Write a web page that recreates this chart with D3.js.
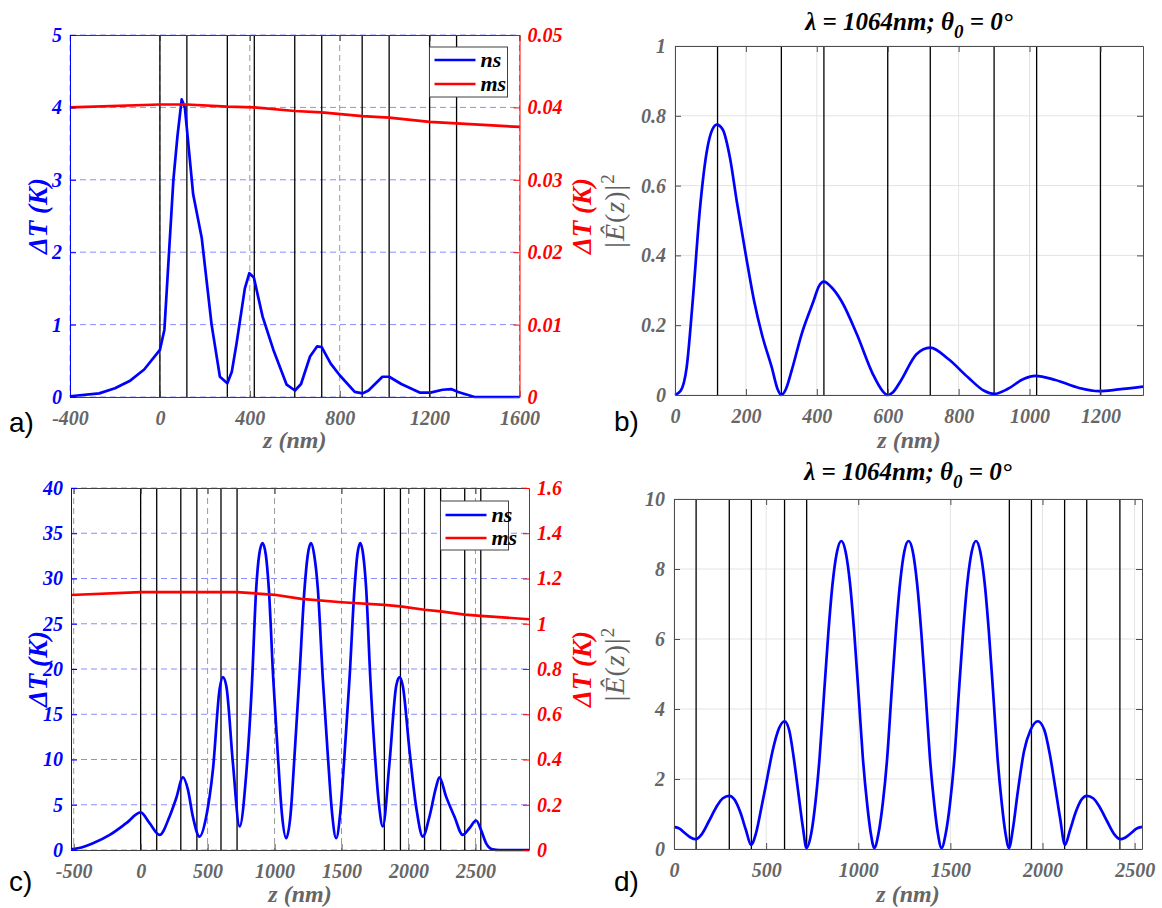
<!DOCTYPE html>
<html><head><meta charset="utf-8">
<script src="https://cdn.jsdelivr.net/npm/d3@7"></script>
<style>
body{margin:0;background:#fff}
svg text{font-family:'Liberation Serif','DejaVu Serif',serif}
svg text.sans{font-family:'Liberation Sans','DejaVu Sans',sans-serif}
</style>
</head><body><svg id="c" width="1162" height="908"></svg>
<script>
// ---------------- DATA ----------------
// panel a
const aLayers = [0,120,300,420,600,720,900,1020,1200,1320];
const aNsZ = [-400,-270,-200,-135,-70,0,20,60,78,97,111,148,186,230,267,300,320,341,378,398,418,457,505,564,601,628,668,700,720,760,800,867,902,928,990,1020,1074,1158,1204,1258,1296,1327,1400,1600];
const aNsT = [0.01,0.05,0.12,0.22,0.38,0.65,0.93,3.0,3.6,4.11,4.0,2.8,2.2,1.0,0.28,0.19,0.35,0.74,1.5,1.71,1.65,1.11,0.65,0.17,0.09,0.18,0.56,0.70,0.69,0.46,0.30,0.07,0.05,0.09,0.28,0.28,0.18,0.06,0.06,0.10,0.11,0.07,0.0,0.0];
const aMsZ = [-400,0,120,300,420,600,720,900,1020,1200,1320,1600];
const aMsT = [0.0400,0.0404,0.0404,0.0401,0.0400,0.0395,0.0393,0.0388,0.0386,0.0380,0.0378,0.0373];
const aXTicks = [-400,0,400,800,1200,1600];
const aXLabels = ["-400","0","400","800","1200","1600"];
const aYLTicks = [0,1,2,3,4,5];
const aYLLabels = ["0","1","2","3","4","5"];
const aYRTicks = [0,0.01,0.02,0.03,0.04,0.05];
const aYRLabels = ["0","0.01","0.02","0.03","0.04","0.05"];

// panel b
const bLayers = [120,300,420,600,720,900,1020,1200];
const bZ = [0,16,33,50,70,90,105,118,135,155,175,200,223,245,273,290,300,312,329,357,391,405,420,440,469,513,558,585,600,615,637,681,720,771,827,872,900,938,983,1016,1073,1140,1196,1251,1320];
const bE = [0,0.012,0.08,0.27,0.53,0.70,0.76,0.775,0.76,0.68,0.55,0.40,0.27,0.174,0.079,0.015,0,0.015,0.07,0.174,0.27,0.31,0.325,0.31,0.27,0.174,0.06,0.012,0,0.008,0.041,0.117,0.136,0.103,0.05,0.012,0.003,0.017,0.046,0.055,0.043,0.02,0.011,0.016,0.024];
const bXTicks = [0,200,400,600,800,1000,1200];
const bXLabels = ["0","200","400","600","800","1000","1200"];
const bYTicks = [0,0.2,0.4,0.6,0.8,1];
const bYLabels = ["0","0.2","0.4","0.6","0.8","1"];

// panel c
const cLayers = [0,120,300,420,600,720,1820,1940,2120,2240,2420,2540];
const cNsZ = [-520,-450,-356,-231,-107,0,67,142,216,266,316,353,390,440,490,540,590,614,640,689,739,789,830,863,885,910,935,957,990,1025,1055,1087,1120,1149,1185,1224,1248,1272,1296,1323,1360,1398,1430,1460,1490,1522,1560,1597,1618,1640,1662,1684,1715,1750,1780,1808,1858,1908,1933,1958,2007,2060,2107,2157,2207,2231,2281,2343,2405,2455,2505,2542,2580,2629,2679,2900];
const cNsT = [0.07,0.25,0.74,1.67,2.96,4.15,2.96,1.67,3.7,5.74,8.04,6.67,3.7,1.48,3.7,8.9,17.8,19.1,18.1,9.6,2.6,8.5,18,28.9,32.6,33.9,32.6,28.9,19,10.4,4,1.3,4,10.4,19,28.9,32.6,33.9,32.6,28.9,19,10.4,4,1.3,4,10.4,19,28.9,32.6,33.9,32.6,28.9,19,10.4,5,2.6,9.6,18.1,19.1,18.1,11.1,4.5,1.48,3.7,7.0,8.04,5.9,3.7,1.67,2.4,3.26,2.2,0.74,0.07,0,0];
const cMsZ = [-520,0,720,1000,1200,1500,1820,1940,2120,2240,2420,2540,2900];
const cMsT = [1.127,1.14,1.14,1.128,1.11,1.095,1.083,1.077,1.062,1.055,1.04,1.035,1.02];
const cXTicks = [-500,0,500,1000,1500,2000,2500];
const cXLabels = ["-500","0","500","1000","1500","2000","2500"];
const cYLTicks = [0,5,10,15,20,25,30,35,40];
const cYLLabels = ["0","5","10","15","20","25","30","35","40"];
const cYRTicks = [0,0.2,0.4,0.6,0.8,1,1.2,1.4,1.6];
const cYRLabels = ["0","0.2","0.4","0.6","0.8","1","1.2","1.4","1.6"];

// panel d
const dLayers = [120,300,420,600,720,1820,1940,2120,2240,2420];
const dZ = [0,30,60,90,118,150,190,230,265,300,330,360,390,418,445,475,505,535,570,600,625,650,675,700,719,745,767,790,814,838,861,885,908,931,955,978,1002,1025,1048,1068,1087,1110,1133,1157,1180,1204,1227,1250,1273,1296,1319,1342,1366,1389,1412,1432,1452,1475,1498,1522,1545,1569,1592,1616,1639,1662,1686,1709,1733,1756,1779,1799,1818,1840,1865,1900,1935,1975,2010,2040,2068,2095,2122,2150,2180,2210,2240,2275,2310,2350,2390,2422,2450,2480,2510,2540];
const dE = [0.63,0.58,0.45,0.33,0.28,0.42,0.8,1.2,1.45,1.52,1.4,1.05,0.55,0.12,0.45,1.2,2.0,2.8,3.45,3.65,3.4,2.6,1.6,0.6,0.03,0.45,1.3,2.6,4.4,6.2,7.6,8.5,8.8,8.5,7.6,6.2,4.4,2.6,1.3,0.45,0.03,0.45,1.3,2.6,4.4,6.2,7.6,8.5,8.8,8.5,7.6,6.2,4.4,2.6,1.3,0.45,0.03,0.45,1.3,2.6,4.4,6.2,7.6,8.5,8.8,8.5,7.6,6.2,4.4,2.6,1.3,0.45,0.03,0.6,1.6,2.8,3.4,3.65,3.4,2.7,1.8,0.9,0.12,0.55,1.05,1.4,1.52,1.45,1.2,0.8,0.42,0.28,0.33,0.45,0.58,0.63];
const dXTicks = [0,500,1000,1500,2000,2500];
const dXLabels = ["0","500","1000","1500","2000","2500"];
const dYTicks = [0,2,4,6,8,10];
const dYLabels = ["0","2","4","6","8","10"];

const legendNames = ["ns","ms"];
const titleText = ["λ = 1064nm; θ","0"," = 0°"];

// ---------------- DRAW ----------------
const svg = d3.select("#c");
const SERIF = "'Liberation Serif','DejaVu Serif',serif";
const BLUE = "#0000ff", RED = "#ff0000", GRAY = "#666666";

function boldItalic(t, size){
  return t.attr("font-family",SERIF).style("font-family",SERIF).attr("font-weight","bold").attr("font-style","italic").attr("font-size",size);
}
function styleAxis(sel, color, labelColor){
  sel.attr("font-family",null).attr("font-size",null);
  sel.select(".domain").attr("stroke", color).attr("stroke-width",1);
  sel.selectAll(".tick line").attr("stroke", color);
  boldItalic(sel.selectAll(".tick text").attr("fill", labelColor), 20);
}

function layersAndLine(g, x, layers, T, B){
  g.selectAll(null).data(layers).join("line")
    .attr("x1",d=>x(d)).attr("x2",d=>x(d)).attr("y1",T).attr("y2",B)
    .attr("stroke","#000").attr("stroke-width",1.3);
}
function letter(o){
  svg.append("text").attr("class","sans").attr("x",o[0]).attr("y",o[1]).attr("font-size",28).attr("fill","#000").text(o[2]);
}

function dualPanel(o){
  const x = d3.scaleLinear().domain(o.xDom).range([o.L,o.R]);
  const yL = d3.scaleLinear().domain(o.yLDom).range([o.B,o.T]);
  const yR = d3.scaleLinear().domain(o.yRDom).range([o.B,o.T]);
  const g = svg.append("g");
  g.selectAll(null).data(o.xTicks).join("line")
    .attr("x1",d=>x(d)).attr("x2",d=>x(d)).attr("y1",o.T).attr("y2",o.B)
    .attr("stroke","#9a9a9a").attr("stroke-width",1).attr("stroke-dasharray","6,4");
  g.selectAll(null).data(o.yLTicks).join("line")
    .attr("x1",o.L).attr("x2",o.R).attr("y1",d=>yL(d)).attr("y2",d=>yL(d))
    .attr("stroke","#8c8cff").attr("stroke-width",1).attr("stroke-dasharray","6,4");
  layersAndLine(g, x, o.layers, o.T, o.B);
  const lnL = d3.line().x(d=>x(d[0])).y(d=>yL(d[1])).curve(o.curve);
  const lnR = d3.line().x(d=>x(d[0])).y(d=>yR(d[1])).curve(d3.curveLinear);
  g.append("path").attr("d",lnL(d3.zip(o.nsZ,o.nsT))).attr("fill","none").attr("stroke",BLUE).attr("stroke-width",2.7).attr("stroke-linejoin","round");
  g.append("path").attr("d",lnR(d3.zip(o.msZ,o.msT))).attr("fill","none").attr("stroke",RED).attr("stroke-width",2.7).attr("stroke-linejoin","round");
  const ax = g.append("g").attr("transform",`translate(0,${o.B})`)
    .call(d3.axisBottom(x).tickValues(o.xTicks).tickFormat((d,i)=>o.xLabels[i]).tickSizeInner(-6).tickSizeOuter(0).tickPadding(14));
  styleAxis(ax,"#404040",GRAY);
  const at = g.append("g").attr("transform",`translate(0,${o.T})`)
    .call(d3.axisTop(x).tickValues(o.xTicks).tickFormat("").tickSizeInner(-6).tickSizeOuter(0));
  styleAxis(at,"#404040",GRAY);
  const al = g.append("g").attr("transform",`translate(${o.L},0)`)
    .call(d3.axisLeft(yL).tickValues(o.yLTicks).tickFormat((d,i)=>o.yLLabels[i]).tickSizeInner(-6).tickSizeOuter(0).tickPadding(8));
  styleAxis(al,BLUE,BLUE);
  const ar = g.append("g").attr("transform",`translate(${o.R},0)`)
    .call(d3.axisRight(yR).tickValues(o.yRTicks).tickFormat((d,i)=>o.yRLabels[i]).tickSizeInner(-6).tickSizeOuter(0).tickPadding(8));
  styleAxis(ar,RED,RED);
  const cy = (o.T+o.B)/2;
  boldItalic(g.append("text").attr("transform",`translate(${o.ltx},${cy}) rotate(-90)`).attr("text-anchor","middle").attr("dy","0.35em").attr("fill",BLUE).text("ΔT (K)"),27);
  boldItalic(g.append("text").attr("transform",`translate(${o.rtx},${cy}) rotate(-90)`).attr("text-anchor","middle").attr("dy","0.35em").attr("fill",RED).text("ΔT (K)"),27);
  boldItalic(g.append("text").attr("x",(o.L+o.R)/2).attr("y",o.xty).attr("text-anchor","middle").attr("fill",GRAY).text("z (nm)"),24);
  const lg = g.append("g");
  lg.append("rect").attr("x",o.lg[0]).attr("y",o.lg[1]).attr("width",o.lg[2]).attr("height",o.lg[3])
    .attr("fill","#fff").attr("stroke","#404040").attr("stroke-width",1);
  const cols=[BLUE,RED];
  legendNames.forEach((n,i)=>{
    const yy = o.lg[1] + o.lgRow[i];
    lg.append("line").attr("x1",o.lg[0]+5).attr("x2",o.lg[0]+46).attr("y1",yy).attr("y2",yy).attr("stroke",cols[i]).attr("stroke-width",2.7);
    boldItalic(lg.append("text").attr("x",o.lg[0]+51).attr("y",yy).attr("dy","0.3em").attr("fill","#000").text(n),22);
  });
  letter(o.letter);
}

function singlePanel(o){
  const x = d3.scaleLinear().domain(o.xDom).range([o.L,o.R]);
  const y = d3.scaleLinear().domain(o.yDom).range([o.B,o.T]);
  const g = svg.append("g");
  g.selectAll(null).data(o.xTicks).join("line")
    .attr("x1",d=>x(d)).attr("x2",d=>x(d)).attr("y1",o.T).attr("y2",o.B).attr("stroke","#e3e3e3").attr("stroke-width",1);
  g.selectAll(null).data(o.yTicks).join("line")
    .attr("x1",o.L).attr("x2",o.R).attr("y1",d=>y(d)).attr("y2",d=>y(d)).attr("stroke","#e3e3e3").attr("stroke-width",1);
  layersAndLine(g, x, o.layers, o.T, o.B);
  const ln = d3.line().x(d=>x(d[0])).y(d=>y(d[1])).curve(d3.curveMonotoneX);
  g.append("path").attr("d",ln(d3.zip(o.z,o.v))).attr("fill","none").attr("stroke",BLUE).attr("stroke-width",2.7).attr("stroke-linejoin","round");
  const AX="#4d4d4d";
  const ab = g.append("g").attr("transform",`translate(0,${o.B})`)
    .call(d3.axisBottom(x).tickValues(o.xTicks).tickFormat((d,i)=>o.xLabels[i]).tickSizeInner(-6).tickSizeOuter(0).tickPadding(14));
  styleAxis(ab,AX,GRAY);
  const at = g.append("g").attr("transform",`translate(0,${o.T})`)
    .call(d3.axisTop(x).tickValues(o.xTicks).tickFormat("").tickSizeInner(-6).tickSizeOuter(0));
  styleAxis(at,AX,GRAY);
  const al = g.append("g").attr("transform",`translate(${o.L},0)`)
    .call(d3.axisLeft(y).tickValues(o.yTicks).tickFormat((d,i)=>o.yLabels[i]).tickSizeInner(-6).tickSizeOuter(0).tickPadding(9));
  styleAxis(al,AX,GRAY);
  const ar = g.append("g").attr("transform",`translate(${o.R},0)`)
    .call(d3.axisRight(y).tickValues(o.yTicks).tickFormat("").tickSizeInner(-6).tickSizeOuter(0));
  styleAxis(ar,AX,GRAY);
  const t = boldItalic(g.append("text").attr("x",(o.L+o.R)/2).attr("y",o.titleY).attr("text-anchor","middle").attr("fill","#000"),25);
  t.append("tspan").text(titleText[0]);
  t.append("tspan").attr("dy",8).attr("font-size",19).text(titleText[1]);
  t.append("tspan").attr("dy",-8).text(titleText[2]);
  boldItalic(g.append("text").attr("x",(o.L+o.R)/2).attr("y",o.xty).attr("text-anchor","middle").attr("fill",GRAY).text("z (nm)"),24);
  const cy=(o.T+o.B)/2 - 10;
  const yt = g.append("text").attr("transform",`translate(${o.ytx},${cy}) rotate(-90)`).attr("text-anchor","middle").attr("dy","0.35em")
    .attr("fill","#606060").attr("font-family",SERIF).attr("font-size",28).attr("letter-spacing",1);
  yt.append("tspan").text("|");
  yt.append("tspan").attr("font-style","italic").text("Ê");
  yt.append("tspan").text("(");
  yt.append("tspan").attr("font-style","italic").text("z");
  yt.append("tspan").text(")|");
  yt.append("tspan").attr("dy",-10).attr("font-size",19).text("2");
  letter(o.letter);
}

dualPanel({L:70,R:519.5,T:35,B:397,xDom:[-400,1600],yLDom:[0,5],yRDom:[0,0.05],
  xTicks:aXTicks,xLabels:aXLabels,yLTicks:aYLTicks,yLLabels:aYLLabels,yRTicks:aYRTicks,yRLabels:aYRLabels,
  layers:aLayers,nsZ:aNsZ,nsT:aNsT,msZ:aMsZ,msT:aMsT,curve:d3.curveLinear,
  ltx:38,rtx:582,xty:448,lg:[429.5,47,78,50],lgRow:[13,37],letter:[9,432,"a)"]});

dualPanel({L:71,R:529,T:488,B:850,xDom:[-520,2900],yLDom:[0,40],yRDom:[0,1.6],
  xTicks:cXTicks,xLabels:cXLabels,yLTicks:cYLTicks,yLLabels:cYLLabels,yRTicks:cYRTicks,yRLabels:cYRLabels,
  layers:cLayers,nsZ:cNsZ,nsT:cNsT,msZ:cMsZ,msT:cMsT,curve:d3.curveMonotoneX,
  ltx:38,rtx:582,xty:902,lg:[440.5,501,68,49],lgRow:[14,37],letter:[9,891,"c)"]});

singlePanel({L:675,R:1143,T:46,B:395,xDom:[0,1320],yDom:[0,1],xTicks:bXTicks,xLabels:bXLabels,yTicks:bYTicks,yLabels:bYLabels,
  layers:bLayers,z:bZ,v:bE,titleY:30,xty:448,ytx:614,letter:[614,431,"b)"]});

singlePanel({L:674,R:1142,T:499,B:849,xDom:[0,2540],yDom:[0,10],xTicks:dXTicks,xLabels:dXLabels,yTicks:dYTicks,yLabels:dYLabels,
  layers:dLayers,z:dZ,v:dE,titleY:480,xty:902,ytx:614,letter:[614,891,"d)"]});
</script></body></html>
